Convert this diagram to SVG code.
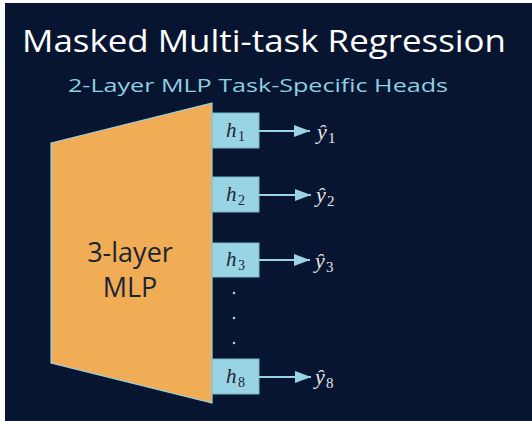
<svg xmlns="http://www.w3.org/2000/svg" width="532" height="421" viewBox="0 0 532 421">
<defs>
<style>
.title{font-family:"Open Sans","Liberation Sans",sans-serif;fill:#ffffff;font-size:31px;}
.sub{font-family:"Open Sans","Liberation Sans",sans-serif;fill:#8fcfe2;font-size:19px;}
.mlp{font-family:"Open Sans","Liberation Sans",sans-serif;fill:#1c2433;font-size:27px;text-anchor:middle;}
.box{fill:#99d4e5;stroke:#7ab8c8;stroke-width:1;}
.hl{font-family:"Liberation Serif","DejaVu Serif",serif;font-style:italic;fill:#1c2433;font-size:21px;}
.hs{font-family:"Liberation Serif","DejaVu Serif",serif;fill:#1c2433;font-size:14px;}
.yl{font-family:"Liberation Serif","DejaVu Serif",serif;font-style:italic;fill:#e4e4ea;font-size:22px;}
.ys{font-family:"Liberation Serif","DejaVu Serif",serif;fill:#e4e4ea;font-size:15px;}
.conn{stroke:#99d4e5;stroke-width:2;fill:none;}
.dot{fill:#99d4e5;}
</style>
<marker id="ah" markerWidth="16" markerHeight="12" refX="16" refY="6" orient="auto" markerUnits="userSpaceOnUse">
<path d="M0,0 L16,6 L0,12 Z" fill="#99d4e5"/>
</marker>
</defs>
<rect x="0" y="0" width="532" height="421" fill="#ffffff"/>
<rect x="5" y="3" width="527" height="418" fill="#071530"/>
<text class="title" x="264" y="52" text-anchor="middle" textLength="484" lengthAdjust="spacingAndGlyphs">Masked Multi-task Regression</text>
<text class="sub" x="258" y="92" text-anchor="middle" textLength="380" lengthAdjust="spacingAndGlyphs">2-Layer MLP Task-Specific Heads</text>
<g id="mlp">
<polygon points="51,143 212,103 212,403 51,363" fill="#f0ad55" stroke="#99d4e5" stroke-width="1.2"/>
<text class="mlp" x="130" y="262">3-layer</text>
<text class="mlp" x="130" y="297">MLP</text>
</g>
<g id="h1">
<rect class="box" x="212" y="113" width="47" height="35"/>
<text class="hl" x="226" y="137">h</text><text class="hs" x="238" y="141">1</text>
</g>
<g id="h2">
<rect class="box" x="212" y="177" width="47" height="35"/>
<text class="hl" x="226" y="201">h</text><text class="hs" x="238" y="205">2</text>
</g>
<g id="h3">
<rect class="box" x="212" y="243" width="47" height="34"/>
<text class="hl" x="226" y="266">h</text><text class="hs" x="238" y="270">3</text>
</g>
<g id="h8">
<rect class="box" x="212" y="359" width="47" height="35"/>
<text class="hl" x="226" y="383">h</text><text class="hs" x="238" y="387">8</text>
</g>
<g id="dots">
<circle class="dot" cx="234" cy="293" r="1.3"/>
<circle class="dot" cx="234" cy="318" r="1.3"/>
<circle class="dot" cx="234" cy="343" r="1.3"/>
</g>
<g id="y1"><text class="yl" x="317" y="139">ŷ</text><text class="ys" x="328" y="143">1</text></g>
<g id="y2"><text class="yl" x="316" y="202">ŷ</text><text class="ys" x="327" y="206">2</text></g>
<g id="y3"><text class="yl" x="315" y="268">ŷ</text><text class="ys" x="326" y="272">3</text></g>
<g id="y8"><text class="yl" x="315" y="384">ŷ</text><text class="ys" x="326" y="388">8</text></g>
<g id="connectors">
<line class="conn" x1="259" y1="131" x2="310" y2="131" marker-end="url(#ah)"/>
<line class="conn" x1="259" y1="195" x2="311" y2="195" marker-end="url(#ah)"/>
<line class="conn" x1="259" y1="260" x2="310" y2="260" marker-end="url(#ah)"/>
<line class="conn" x1="259" y1="377" x2="311" y2="377" marker-end="url(#ah)"/>
</g>
</svg>
